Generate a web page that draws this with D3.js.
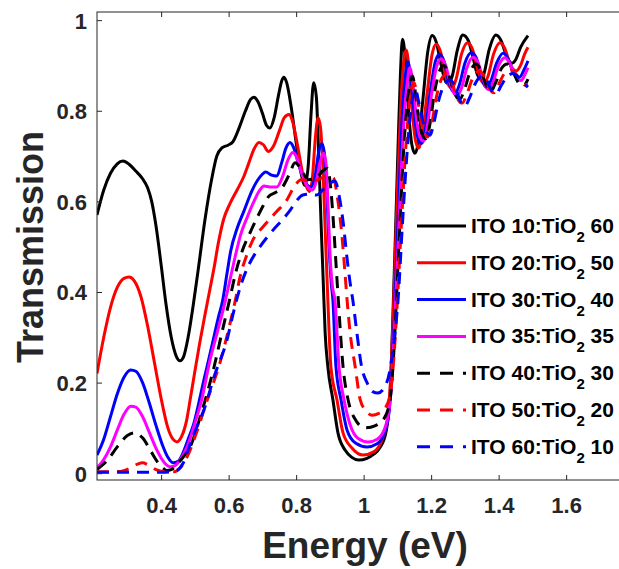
<!DOCTYPE html>
<html><head><meta charset="utf-8">
<script src="https://cdn.jsdelivr.net/npm/d3@7"></script>
<style>body{margin:0;background:#fff}svg{display:block}text{font-family:"Liberation Sans",Arial,Helvetica,sans-serif;font-weight:bold}</style>
</head><body><svg id="c" width="619" height="569"></svg>
<script>
const xTicks = [0.4, 0.6, 0.8, 1.0, 1.2, 1.4, 1.6];
const xTickLabels = ["0.4", "0.6", "0.8", "1", "1.2", "1.4", "1.6"];
const yTicks = [0, 0.2, 0.4, 0.6, 0.8, 1];
const yTickLabels = ["0", "0.2", "0.4", "0.6", "0.8", "1"];
const legendLabels = [["ITO 10:TiO","2"," 60"],["ITO 20:TiO","2"," 50"],["ITO 30:TiO","2"," 40"],["ITO 35:TiO","2"," 35"],["ITO 40:TiO","2"," 30"],["ITO 50:TiO","2"," 20"],["ITO 60:TiO","2"," 10"]];
const seriesColors = ["#000000","#ff0000","#0000ff","#ff00ff","#000000","#ff0000","#0000ff"];
const seriesDashed = [false,false,false,false,true,true,true];

const ito10_60 = [[0.21,0.57],[0.23,0.625],[0.25,0.662],[0.27,0.683],[0.287,0.689],[0.305,0.682],[0.325,0.667],[0.345,0.65],[0.36,0.63],[0.372,0.6],[0.385,0.545],[0.40,0.46],[0.415,0.37],[0.43,0.3],[0.445,0.258],[0.456,0.248],[0.467,0.258],[0.48,0.3],[0.495,0.37],[0.51,0.45],[0.53,0.56],[0.55,0.65],[0.565,0.7],[0.58,0.718],[0.598,0.724],[0.613,0.732],[0.63,0.76],[0.65,0.8],[0.665,0.825],[0.675,0.83],[0.687,0.82],[0.70,0.795],[0.712,0.768],[0.722,0.762],[0.735,0.785],[0.748,0.835],[0.757,0.865],[0.764,0.874],[0.772,0.862],[0.785,0.81],[0.80,0.73],[0.814,0.665],[0.826,0.635],[0.836,0.68],[0.844,0.79],[0.852,0.862],[0.86,0.83],[0.867,0.7],[0.874,0.55],[0.88,0.43],[0.886,0.31],[0.894,0.235],[0.909,0.162],[0.924,0.089],[0.945,0.051],[0.965,0.035],[0.985,0.029],[1.01,0.033],[1.03,0.042],[1.048,0.056],[1.066,0.09],[1.078,0.17],[1.086,0.33],[1.094,0.52],[1.102,0.72],[1.109,0.88],[1.115,0.958],[1.123,0.92],[1.133,0.8],[1.143,0.725],[1.152,0.706],[1.162,0.73],[1.175,0.82],[1.19,0.93],[1.203,0.966],[1.215,0.952],[1.23,0.9],[1.24,0.87],[1.25,0.86],[1.262,0.875],[1.278,0.935],[1.294,0.967],[1.31,0.955],[1.325,0.915],[1.337,0.88],[1.345,0.87],[1.355,0.878],[1.372,0.935],[1.392,0.967],[1.407,0.955],[1.42,0.928],[1.432,0.909],[1.44,0.905],[1.45,0.912],[1.465,0.94],[1.487,0.966]];

const ito20_50 = [[0.21,0.22],[0.23,0.3],[0.25,0.366],[0.27,0.41],[0.29,0.43],[0.305,0.433],[0.32,0.425],[0.34,0.39],[0.36,0.325],[0.38,0.245],[0.40,0.165],[0.42,0.1],[0.435,0.075],[0.447,0.069],[0.46,0.08],[0.475,0.115],[0.486,0.162],[0.50,0.225],[0.515,0.29],[0.53,0.35],[0.543,0.4],[0.556,0.45],[0.57,0.51],[0.585,0.56],[0.604,0.595],[0.625,0.625],[0.645,0.655],[0.66,0.685],[0.675,0.715],[0.69,0.73],[0.703,0.725],[0.718,0.71],[0.733,0.722],[0.75,0.755],[0.765,0.785],[0.779,0.792],[0.79,0.775],[0.805,0.72],[0.82,0.66],[0.832,0.63],[0.84,0.622],[0.848,0.65],[0.857,0.74],[0.865,0.784],[0.872,0.765],[0.879,0.68],[0.886,0.54],[0.894,0.382],[0.903,0.235],[0.921,0.162],[0.939,0.089],[0.966,0.055],[0.998,0.04],[1.03,0.047],[1.055,0.075],[1.072,0.125],[1.082,0.24],[1.09,0.4],[1.1,0.62],[1.11,0.81],[1.119,0.91],[1.126,0.934],[1.135,0.89],[1.145,0.79],[1.155,0.73],[1.163,0.718],[1.173,0.745],[1.187,0.83],[1.203,0.925],[1.215,0.947],[1.228,0.93],[1.242,0.88],[1.254,0.854],[1.262,0.85],[1.274,0.87],[1.29,0.925],[1.308,0.95],[1.322,0.937],[1.337,0.895],[1.349,0.866],[1.356,0.86],[1.368,0.875],[1.385,0.925],[1.404,0.95],[1.418,0.938],[1.433,0.905],[1.445,0.89],[1.452,0.888],[1.465,0.9],[1.477,0.925],[1.487,0.94]];

const ito30_40 = [[0.21,0.04],[0.23,0.075],[0.25,0.125],[0.27,0.175],[0.29,0.212],[0.31,0.228],[0.325,0.225],[0.345,0.2],[0.365,0.155],[0.385,0.105],[0.405,0.06],[0.42,0.035],[0.435,0.023],[0.45,0.026],[0.465,0.045],[0.48,0.075],[0.497,0.11],[0.51,0.15],[0.525,0.2],[0.536,0.235],[0.55,0.28],[0.57,0.345],[0.582,0.38],[0.595,0.44],[0.606,0.49],[0.625,0.54],[0.645,0.578],[0.67,0.625],[0.693,0.654],[0.71,0.665],[0.727,0.658],[0.743,0.656],[0.757,0.685],[0.77,0.718],[0.782,0.73],[0.793,0.718],[0.808,0.68],[0.825,0.645],[0.843,0.632],[0.855,0.65],[0.866,0.705],[0.876,0.728],[0.883,0.71],[0.89,0.64],[0.897,0.51],[0.904,0.42],[0.909,0.382],[0.918,0.235],[0.933,0.162],[0.951,0.095],[0.977,0.066],[1.01,0.058],[1.04,0.065],[1.062,0.09],[1.076,0.14],[1.085,0.24],[1.093,0.38],[1.103,0.58],[1.114,0.78],[1.124,0.88],[1.131,0.908],[1.14,0.87],[1.152,0.78],[1.163,0.735],[1.172,0.728],[1.182,0.755],[1.197,0.84],[1.213,0.91],[1.225,0.925],[1.238,0.91],[1.252,0.865],[1.264,0.843],[1.272,0.84],[1.284,0.858],[1.3,0.905],[1.319,0.928],[1.333,0.918],[1.348,0.878],[1.359,0.855],[1.365,0.852],[1.377,0.866],[1.394,0.905],[1.413,0.927],[1.428,0.915],[1.443,0.885],[1.456,0.875],[1.462,0.874],[1.475,0.89],[1.487,0.91]];

const ito35_35 = [[0.21,0.012],[0.23,0.03],[0.25,0.058],[0.27,0.095],[0.29,0.13],[0.31,0.148],[0.325,0.146],[0.345,0.125],[0.365,0.09],[0.385,0.055],[0.405,0.028],[0.42,0.016],[0.428,0.014],[0.44,0.016],[0.455,0.028],[0.477,0.058],[0.5,0.11],[0.52,0.162],[0.545,0.25],[0.566,0.31],[0.59,0.38],[0.605,0.43],[0.62,0.48],[0.635,0.525],[0.655,0.565],[0.675,0.6],[0.69,0.622],[0.705,0.634],[0.722,0.632],[0.743,0.632],[0.76,0.655],[0.775,0.69],[0.79,0.708],[0.80,0.7],[0.815,0.665],[0.832,0.635],[0.848,0.625],[0.86,0.645],[0.872,0.69],[0.882,0.706],[0.889,0.68],[0.895,0.58],[0.902,0.46],[0.908,0.41],[0.915,0.382],[0.927,0.235],[0.942,0.162],[0.96,0.107],[0.983,0.077],[1.013,0.069],[1.04,0.075],[1.063,0.1],[1.077,0.15],[1.087,0.25],[1.095,0.38],[1.106,0.57],[1.118,0.76],[1.129,0.86],[1.137,0.895],[1.146,0.86],[1.158,0.775],[1.169,0.738],[1.177,0.733],[1.187,0.758],[1.202,0.84],[1.218,0.902],[1.23,0.915],[1.243,0.9],[1.258,0.857],[1.27,0.836],[1.278,0.833],[1.29,0.85],[1.306,0.895],[1.324,0.918],[1.338,0.908],[1.353,0.872],[1.364,0.85],[1.37,0.847],[1.382,0.86],[1.399,0.898],[1.418,0.917],[1.433,0.905],[1.448,0.878],[1.46,0.868],[1.467,0.867],[1.478,0.88],[1.487,0.895]];

const ito40_30 = [[0.21,0.008],[0.24,0.028],[0.27,0.058],[0.3,0.083],[0.322,0.089],[0.345,0.078],[0.37,0.048],[0.39,0.024],[0.405,0.012],[0.417,0.006],[0.43,0.008],[0.45,0.022],[0.47,0.04],[0.486,0.058],[0.51,0.11],[0.53,0.16],[0.557,0.235],[0.58,0.31],[0.605,0.39],[0.62,0.44],[0.64,0.49],[0.663,0.53],[0.685,0.565],[0.702,0.59],[0.72,0.612],[0.74,0.62],[0.76,0.632],[0.78,0.66],[0.797,0.685],[0.812,0.675],[0.835,0.648],[0.86,0.652],[0.88,0.668],[0.893,0.673],[0.901,0.64],[0.908,0.58],[0.915,0.5],[0.92,0.44],[0.925,0.382],[0.939,0.235],[0.954,0.162],[0.974,0.12],[1.004,0.1],[1.035,0.105],[1.06,0.12],[1.078,0.16],[1.089,0.26],[1.097,0.38],[1.108,0.56],[1.12,0.73],[1.133,0.84],[1.145,0.877],[1.155,0.83],[1.166,0.77],[1.177,0.743],[1.184,0.738],[1.195,0.765],[1.21,0.84],[1.226,0.89],[1.238,0.9],[1.252,0.88],[1.267,0.843],[1.278,0.828],[1.285,0.826],[1.298,0.845],[1.315,0.885],[1.333,0.903],[1.347,0.89],[1.362,0.858],[1.372,0.845],[1.377,0.843],[1.39,0.86],[1.408,0.893],[1.426,0.903],[1.441,0.89],[1.456,0.865],[1.468,0.857],[1.475,0.857],[1.487,0.87]];

const ito50_20 = [[0.21,0.003],[0.28,0.004],[0.305,0.01],[0.33,0.02],[0.345,0.023],[0.36,0.019],[0.385,0.008],[0.41,0.003],[0.438,0.003],[0.458,0.013],[0.477,0.036],[0.505,0.09],[0.536,0.16],[0.574,0.243],[0.604,0.33],[0.62,0.382],[0.634,0.434],[0.653,0.48],[0.672,0.515],[0.702,0.544],[0.743,0.578],[0.77,0.6],[0.794,0.632],[0.815,0.648],[0.84,0.645],[0.865,0.648],[0.89,0.656],[0.91,0.652],[0.924,0.6],[0.935,0.53],[0.944,0.45],[0.951,0.382],[0.96,0.31],[0.975,0.235],[0.99,0.162],[1.008,0.137],[1.025,0.128],[1.045,0.132],[1.065,0.145],[1.08,0.18],[1.091,0.27],[1.1,0.38],[1.112,0.55],[1.125,0.72],[1.138,0.83],[1.149,0.862],[1.16,0.825],[1.172,0.77],[1.183,0.747],[1.19,0.742],[1.2,0.765],[1.217,0.835],[1.234,0.875],[1.247,0.882],[1.261,0.865],[1.276,0.83],[1.287,0.818],[1.292,0.817],[1.305,0.835],[1.323,0.872],[1.342,0.888],[1.356,0.878],[1.371,0.852],[1.381,0.841],[1.386,0.84],[1.399,0.857],[1.417,0.882],[1.435,0.89],[1.45,0.882],[1.466,0.866],[1.478,0.857],[1.487,0.858]];

const ito60_10 = [[0.21,0.002],[0.3,0.002],[0.4,0.002],[0.44,0.004],[0.465,0.022],[0.49,0.073],[0.51,0.11],[0.527,0.14],[0.557,0.213],[0.595,0.294],[0.616,0.36],[0.634,0.41],[0.66,0.46],[0.693,0.5],[0.731,0.536],[0.76,0.56],[0.782,0.58],[0.80,0.6],[0.82,0.614],[0.84,0.616],[0.86,0.614],[0.88,0.626],[0.9,0.64],[0.915,0.645],[0.928,0.61],[0.94,0.55],[0.95,0.48],[0.96,0.42],[0.968,0.382],[0.98,0.31],[0.994,0.235],[1.01,0.2],[1.027,0.18],[1.042,0.177],[1.057,0.184],[1.078,0.228],[1.093,0.31],[1.102,0.382],[1.115,0.55],[1.13,0.72],[1.143,0.82],[1.153,0.848],[1.163,0.82],[1.176,0.775],[1.19,0.75],[1.197,0.746],[1.207,0.77],[1.225,0.83],[1.243,0.862],[1.256,0.868],[1.27,0.855],[1.286,0.822],[1.296,0.811],[1.30,0.81],[1.313,0.827],[1.332,0.862],[1.35,0.877],[1.364,0.868],[1.379,0.845],[1.388,0.838],[1.393,0.838],[1.407,0.855],[1.425,0.875],[1.443,0.882],[1.458,0.875],[1.475,0.86],[1.487,0.852]];

const seriesData = [ito10_60, ito20_50, ito30_40, ito35_35, ito40_30, ito50_20, ito60_10];

const svg = d3.select("#c");
const L = 97, T = 12, B = 480;
const x = d3.scaleLinear().domain([0.21, 1.8]).range([L, L + 1.59 * 337.5]);
const y = d3.scaleLinear().domain([-0.015, 1.018]).range([B, T]);
const R = x.range()[1];
const axisColor = "#262626";

svg.append("defs").append("clipPath").attr("id","clip")
  .append("rect").attr("x", L).attr("y", T).attr("width", R - L).attr("height", B - T);

const line = d3.line().x(d => x(d[0])).y(d => y(d[1])).curve(d3.curveMonotoneX);
const g = svg.append("g").attr("clip-path","url(#clip)");
seriesData.forEach((data, i) => {
  g.append("path").datum(data).attr("d", line)
    .attr("fill","none").attr("stroke", seriesColors[i]).attr("stroke-width", 3)
    .attr("stroke-linejoin","round")
    .attr("stroke-dasharray", seriesDashed[i] ? "12,8" : null);
});

// axes box
svg.append("rect").attr("x", L).attr("y", T).attr("width", R - L).attr("height", B - T)
  .attr("fill","none").attr("stroke", axisColor).attr("stroke-width", 1);

const xAxisB = d3.axisBottom(x).tickValues(xTicks).tickSize(-5).tickFormat((d,i)=>xTickLabels[i]).tickPadding(12);
const xAxisT = d3.axisTop(x).tickValues(xTicks).tickSize(-5).tickFormat("");
const yAxisL = d3.axisLeft(y).tickValues(yTicks).tickSize(-5).tickFormat((d,i)=>yTickLabels[i]).tickPadding(14);

const gxb = svg.append("g").attr("transform", `translate(0,${B})`).call(xAxisB);
const gxt = svg.append("g").attr("transform", `translate(0,${T})`).call(xAxisT);
const gyl = svg.append("g").attr("transform", `translate(${L},0)`).call(yAxisL);
[gxb, gxt, gyl].forEach(a => {
  a.select(".domain").remove();
  a.selectAll(".tick line").attr("stroke", axisColor);
  a.selectAll(".tick text").attr("fill", axisColor).style("font-size","22px")
    .style("font-family","'Liberation Sans',Arial,sans-serif").style("font-weight","bold");
});
gxb.selectAll(".tick text").attr("dy", null).attr("y", 33);
gyl.selectAll(".tick text").attr("dy", "0.36em").attr("x", -10);

// axis labels
svg.append("text").attr("x", 365).attr("y", 558).attr("text-anchor","middle")
  .attr("fill", axisColor).style("font-size","37px").text("Energy (eV)");
svg.append("text").attr("transform","translate(43,247) rotate(-90)").attr("text-anchor","middle")
  .attr("fill", axisColor).style("font-size","36px").text("Transmission");

// legend
const legX1 = 417, legX2 = 466, legTextX = 471, legY0 = 226, legDY = 36.8;
legendLabels.forEach((lab, i) => {
  const yy = legY0 + i * legDY;
  svg.append("line").attr("x1", legX1).attr("x2", legX2).attr("y1", yy).attr("y2", yy)
    .attr("stroke", seriesColors[i]).attr("stroke-width", 3)
    .attr("stroke-dasharray", seriesDashed[i] ? "13,10" : null);
  const t = svg.append("text").attr("x", legTextX).attr("y", yy + 7).attr("fill","#000").style("font-size","21px");
  t.append("tspan").text(lab[0]);
  t.append("tspan").attr("dy", 9).style("font-size","15px").text(lab[1]);
  t.append("tspan").attr("dy", -9).text(lab[2]);
});
</script></body></html>
